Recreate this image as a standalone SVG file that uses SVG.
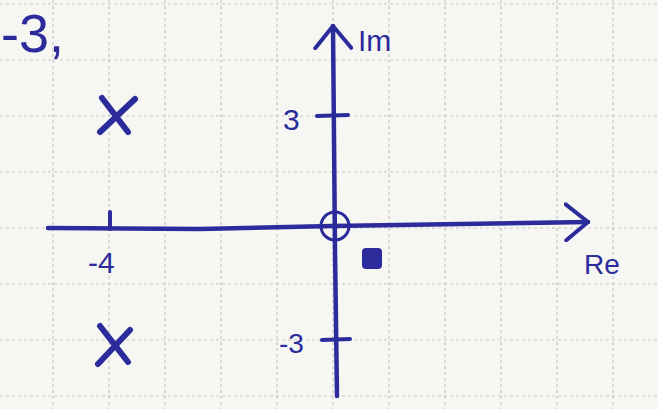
<svg xmlns="http://www.w3.org/2000/svg" width="658" height="409" viewBox="0 0 658 409">
<style>
.grid line{stroke:#c9c4c8;stroke-width:1.2;stroke-dasharray:3 3}
.ink{stroke:#2b2b9c;fill:none;stroke-linecap:round;stroke-linejoin:round}
.t{font-family:"Liberation Sans",Arial,sans-serif;fill:#2b2b9c}
</style>
<defs>
<marker id="arr" viewBox="0 0 26 40" refX="24" refY="20" markerWidth="26" markerHeight="40" markerUnits="userSpaceOnUse" orient="auto">
<path d="M2,2 L24,20 L2,38" fill="none" stroke="#2b2b9c" stroke-width="4" stroke-linecap="round" stroke-linejoin="round"/>
</marker>
</defs>
<rect width="658" height="409" fill="#f6f6f3"/>
<g class="grid" id="grid">
<line x1="-3" y1="0" x2="-3" y2="409"/>
<line x1="53" y1="0" x2="53" y2="409"/>
<line x1="109" y1="0" x2="109" y2="409"/>
<line x1="165" y1="0" x2="165" y2="409"/>
<line x1="221" y1="0" x2="221" y2="409"/>
<line x1="277" y1="0" x2="277" y2="409"/>
<line x1="333" y1="0" x2="333" y2="409"/>
<line x1="389" y1="0" x2="389" y2="409"/>
<line x1="445" y1="0" x2="445" y2="409"/>
<line x1="501" y1="0" x2="501" y2="409"/>
<line x1="557" y1="0" x2="557" y2="409"/>
<line x1="613" y1="0" x2="613" y2="409"/>
<line x1="0" y1="4" x2="658" y2="4"/>
<line x1="0" y1="60" x2="658" y2="60"/>
<line x1="0" y1="116" x2="658" y2="116"/>
<line x1="0" y1="172" x2="658" y2="172"/>
<line x1="0" y1="228" x2="658" y2="228"/>
<line x1="0" y1="284" x2="658" y2="284"/>
<line x1="0" y1="340" x2="658" y2="340"/>
<line x1="0" y1="396" x2="658" y2="396"/>
</g>
<g id="connectors">
<path class="ink" d="M48,228 L200,229 L333,226 L588,222" stroke-width="4.5" marker-end="url(#arr)"/>
<path class="ink" d="M337,396 L335,250 L333,26" stroke-width="4.5" marker-end="url(#arr)"/>
</g>
<g id="header"><text class="t" x="1" y="52" font-size="54">-3,</text></g>
<g id="label-im"><text class="t" x="358" y="51" font-size="30">Im</text></g>
<g id="label-re"><text class="t" x="584" y="274" font-size="28">Re</text></g>
<g id="tick-3">
<line class="ink" x1="317" y1="116" x2="348" y2="115" stroke-width="4"/>
<text class="t" x="283" y="130" font-size="30">3</text>
</g>
<g id="tick-m3">
<line class="ink" x1="322" y1="340" x2="350" y2="339" stroke-width="4"/>
<text class="t" x="279" y="353" font-size="28">-3</text>
</g>
<g id="tick-m4">
<line class="ink" x1="110" y1="212" x2="110" y2="229" stroke-width="4"/>
<text class="t" x="88" y="273" font-size="30">-4</text>
</g>
<g id="zero-origin"><circle class="ink" cx="335" cy="226" r="14" stroke-width="3"/></g>
<g id="zero-dot"><rect x="362" y="248" width="20" height="21" rx="4" fill="#2b2b9c"/></g>
<g id="pole-upper"><path class="ink" d="M102,98 L128,132 M135,99 L100,132" stroke-width="6"/></g>
<g id="pole-lower"><path class="ink" d="M100,326 L128,362 M130,330 L98,364" stroke-width="6"/></g>
</svg>
